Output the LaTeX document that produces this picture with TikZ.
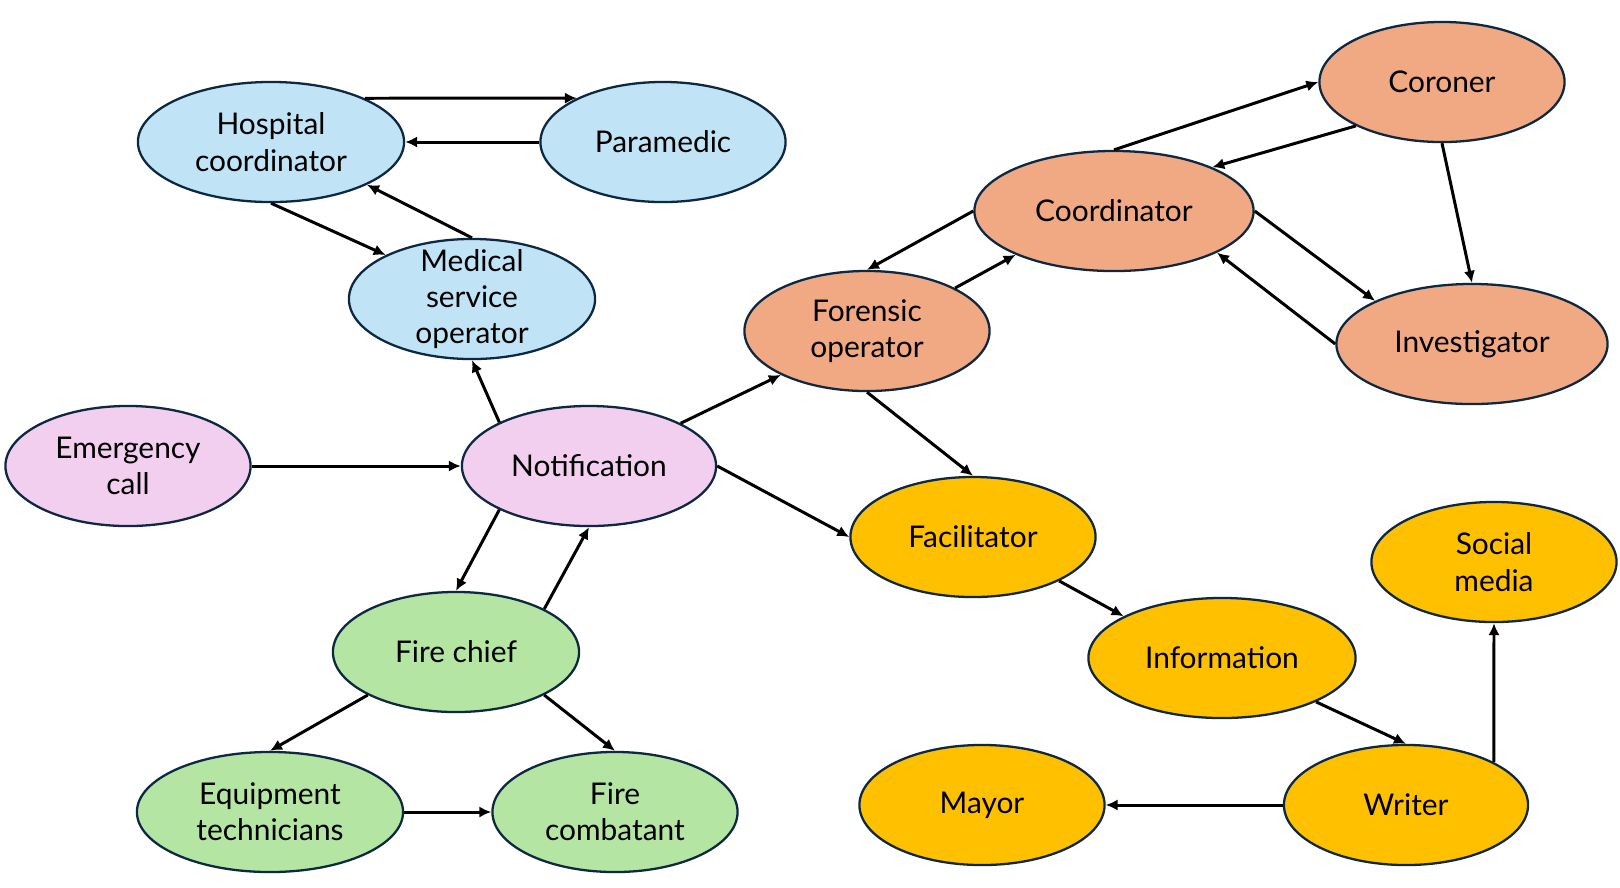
\documentclass[tikz,border=0pt]{standalone}
\usepackage{fontspec}
\setmainfont{Lato}
\usetikzlibrary{arrows.meta, shapes.geometric}
\definecolor{medblue}{HTML}{C0E4F5}
\definecolor{alertpink}{HTML}{F2CEEF}
\definecolor{firegreen}{HTML}{B4E5A2}
\definecolor{forensicorange}{HTML}{F1A983}
\definecolor{mediayellow}{HTML}{FFC000}
\definecolor{rimnavy}{HTML}{0E2841}
\begin{document}
\begin{tikzpicture}[x=0.01cm, y=-0.01cm,
    base_node/.style={ellipse, draw=rimnavy, line width=0.65pt, inner sep=0pt,
        minimum width=2.45cm, minimum height=1.2cm, align=center,
        font=\fontsize{8.5}{10.3}\selectfont},
    blue_node/.style={base_node, fill=medblue},
    pink_node/.style={base_node, fill=alertpink},
    green_node/.style={base_node, fill=firegreen},
    orange_node/.style={base_node, fill=forensicorange},
    yellow_node/.style={base_node, fill=mediayellow},
    edge_style/.style={draw=black, line width=0.85pt, -{Latex[length=3.4pt,width=3.2pt]}}]

    \useasboundingbox (0,0) rectangle (1620,887);

    % medical services
    \node[blue_node, minimum width=2.66cm] (hosp) at (271,142) {Hospital\\coordinator};
    \node[blue_node] (para) at (663,142) {Paramedic};
    \node[blue_node, minimum width=2.46cm, inner ysep=-3pt] (medop) at (472,299) {Medical\\service\\operator};

    % alert
    \node[pink_node] (emcall) at (128,466) {Emergency\\call};
    \node[pink_node, minimum width=2.54cm] (notif) at (589,466) {Notification};

    % fire services
    \node[green_node, minimum width=2.46cm] (fchief) at (456,652) {Fire chief};
    \node[green_node, minimum width=2.66cm] (equip) at (270,812) {Equipment\\technicians};
    \node[green_node] (fcomb) at (615,812) {Fire\\combatant};

    % forensic services
    \node[orange_node] (foren) at (867,331) {Forensic\\operator};
    \node[orange_node, minimum width=2.79cm] (coord) at (1114,211) {Coordinator};
    \node[orange_node] (coron) at (1442,82) {Coroner};
    \node[orange_node, minimum width=2.71cm] (invest) at (1472,344) {Investigator};

    % information
    \node[yellow_node] (facil) at (973,537) {Facilitator};
    \node[yellow_node, minimum width=2.67cm] (info) at (1222,658) {Information};
    \node[yellow_node] (social) at (1494,562) {Social\\media};
    \node[yellow_node] (mayor) at (982,805) {Mayor};
    \node[yellow_node, minimum width=2.44cm] (writer) at (1406,805) {Writer};

    \draw[edge_style] (hosp.25) -- (para.153);
    \draw[edge_style] (para.west) -- (hosp.east);
    \draw[edge_style] (hosp.south) -- (medop.153);
    \draw[edge_style] (medop.north) -- (hosp.-24);
    \draw[edge_style] (emcall.east) -- (notif.west);
    \draw[edge_style] (notif.154) -- (medop.south);
    \draw[edge_style] (notif.-154) -- (fchief.north);
    \draw[edge_style] (fchief.26) -- (notif.south);
    \draw[edge_style] (fchief.-154) -- (equip.north);
    \draw[edge_style] (fchief.-26) -- (fcomb.north);
    \draw[edge_style] (equip.east) -- (fcomb.west);
    \draw[edge_style] (notif.25) -- (foren.-153);
    \draw[edge_style] (notif.east) -- (facil.west);
    \draw[edge_style] (foren.south) -- (facil.north);
    \draw[edge_style] (foren.26) -- (coord.-156);
    \draw[edge_style] (coord.west) -- (foren.north);
    \draw[edge_style] (coord.north) -- (coron.west);
    \draw[edge_style] (coron.-153) -- (coord.24);
    \draw[edge_style] (coron.south) -- (invest.north);
    \draw[edge_style] (coord.east) -- (invest.156);
    \draw[edge_style] (invest.west) -- (coord.-22);
    \draw[edge_style] (facil.-27) -- (info.157);
    \draw[edge_style] (info.-25) -- (writer.north);
    \draw[edge_style] (writer.west) -- (mayor.east);
    \draw[edge_style] (writer.26) -- (social.south);
\end{tikzpicture}
\end{document}
